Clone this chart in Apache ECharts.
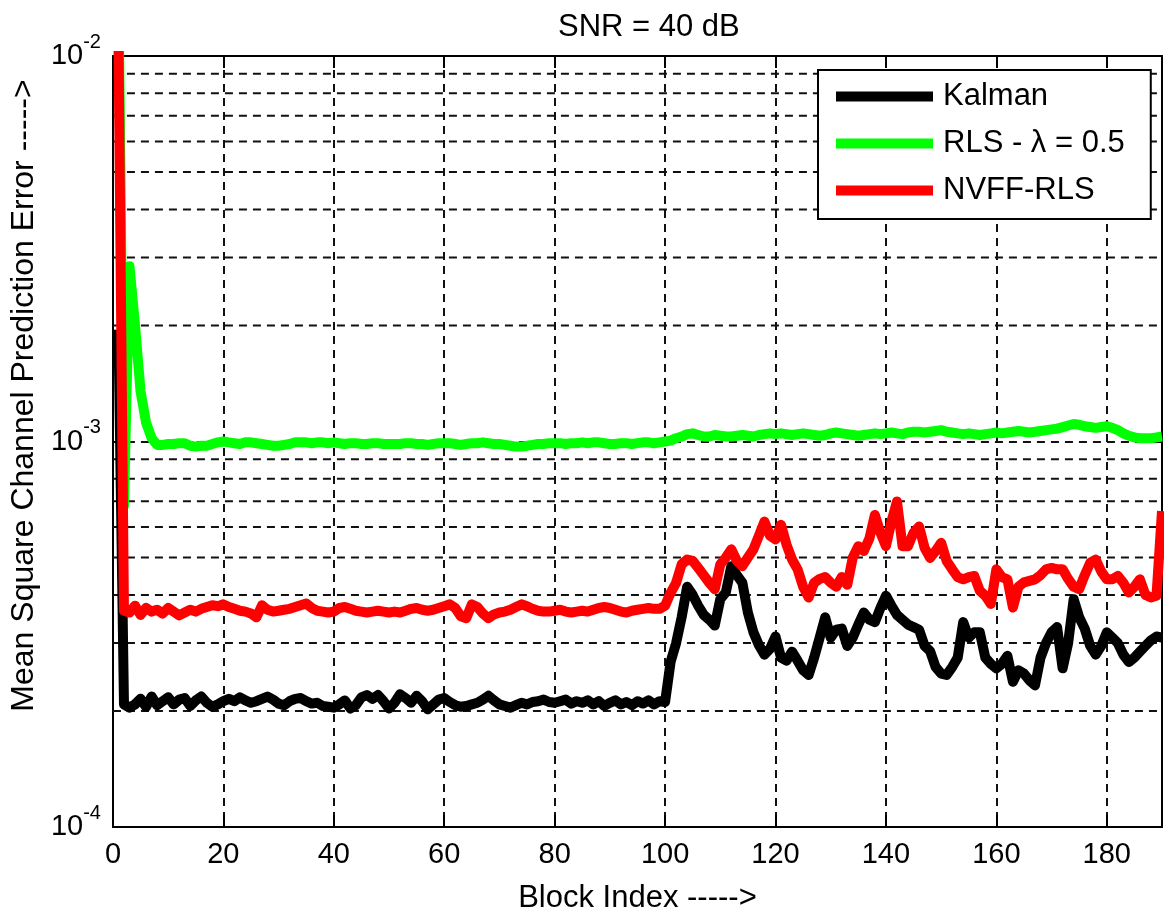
<!DOCTYPE html>
<html>
<head>
<meta charset="utf-8">
<script src="https://cdn.jsdelivr.net/npm/echarts@6/dist/echarts.min.js"></script>
<style>
  html, body { margin: 0; padding: 0; background: #fff; }
  #chart { width: 1164px; height: 919px; }
</style>
</head>
<body>
<div id="chart"></div>
<script>
// values are in units of 1e-4, one per block index 1..190
const UNIT = 1e-4;

const kalman = [
  19.5, 2.08, 2.04, 2.08, 2.15, 2.05, 2.18, 2.07, 2.12, 2.17,
  2.08, 2.14, 2.16, 2.06, 2.13, 2.18, 2.10, 2.05, 2.08, 2.12,
  2.15, 2.12, 2.17, 2.13, 2.10, 2.12, 2.15, 2.18, 2.14, 2.09,
  2.07, 2.12, 2.15, 2.16, 2.12, 2.09, 2.10, 2.06, 2.05, 2.04,
  2.08, 2.13, 2.03, 2.07, 2.17, 2.20, 2.15, 2.20, 2.12, 2.03,
  2.10, 2.21, 2.16, 2.10, 2.19, 2.12, 2.02, 2.08, 2.14, 2.16,
  2.11, 2.07, 2.05, 2.06, 2.08, 2.10, 2.14, 2.19, 2.13, 2.08,
  2.06, 2.04, 2.07, 2.10, 2.08, 2.11, 2.12, 2.14, 2.11, 2.10,
  2.12, 2.14, 2.09, 2.12, 2.10, 2.13, 2.08, 2.12, 2.06, 2.10,
  2.13, 2.08, 2.11, 2.07, 2.12, 2.09, 2.13, 2.08, 2.12, 2.11,
  2.68, 3.00, 3.50, 4.20, 4.00, 3.75, 3.55, 3.45, 3.33, 3.90,
  4.06, 4.75, 4.50, 4.30, 3.60, 3.20, 2.96, 2.80, 2.90, 3.12,
  2.75, 2.70, 2.85, 2.70, 2.55, 2.48, 2.75, 3.10, 3.50, 3.10,
  3.25, 3.27, 2.95, 3.10, 3.35, 3.60, 3.45, 3.40, 3.70, 3.98,
  3.75, 3.55, 3.45, 3.35, 3.30, 3.25, 2.95, 2.86, 2.60, 2.50,
  2.48, 2.60, 2.75, 3.40, 3.10, 3.20, 3.20, 2.75, 2.65, 2.58,
  2.65, 2.78, 2.38, 2.55, 2.50, 2.40, 2.33, 2.75, 3.00, 3.20,
  3.30, 2.58, 3.00, 3.90, 3.50, 3.27, 2.95, 2.80, 2.95, 3.20,
  3.10, 3.00, 2.80, 2.68, 2.75, 2.85, 2.95, 3.05, 3.12, 3.10
];

const rls = [
  150, 6.8, 28.5, 20.0, 13.5, 11.2, 10.2, 9.80, 9.80, 9.85,
  9.85, 9.90, 9.90, 9.75, 9.70, 9.75, 9.75, 9.85, 9.95, 10.0,
  9.95, 9.90, 9.85, 9.95, 9.95, 9.90, 9.85, 9.80, 9.75, 9.75,
  9.80, 9.85, 9.95, 9.95, 9.95, 9.90, 9.95, 9.95, 9.90, 9.95,
  9.90, 9.85, 9.90, 9.90, 9.85, 9.85, 9.90, 9.90, 9.85, 9.85,
  9.85, 9.85, 9.90, 9.90, 9.85, 9.85, 9.80, 9.85, 9.90, 9.90,
  9.90, 9.85, 9.80, 9.85, 9.90, 9.90, 9.95, 9.90, 9.85, 9.85,
  9.80, 9.75, 9.70, 9.70, 9.75, 9.80, 9.85, 9.85, 9.90, 9.90,
  9.90, 9.85, 9.90, 9.90, 9.95, 9.90, 9.95, 9.95, 9.90, 9.85,
  9.85, 9.90, 9.90, 9.85, 9.90, 9.95, 9.95, 9.90, 9.95, 10.0,
  10.05, 10.2, 10.3, 10.45, 10.5, 10.4, 10.3, 10.3, 10.4, 10.35,
  10.3, 10.3, 10.35, 10.4, 10.35, 10.3, 10.4, 10.45, 10.5, 10.45,
  10.5, 10.45, 10.4, 10.45, 10.5, 10.45, 10.4, 10.35, 10.4, 10.5,
  10.55, 10.5, 10.45, 10.4, 10.35, 10.4, 10.45, 10.5, 10.45, 10.5,
  10.55, 10.5, 10.45, 10.55, 10.6, 10.6, 10.55, 10.6, 10.65, 10.7,
  10.6, 10.55, 10.5, 10.45, 10.5, 10.45, 10.4, 10.45, 10.5, 10.55,
  10.5, 10.55, 10.6, 10.65, 10.6, 10.55, 10.6, 10.65, 10.7, 10.75,
  10.8, 10.9, 11.0, 11.1, 11.05, 10.95, 10.9, 10.85, 10.9, 10.95,
  10.85, 10.7, 10.5, 10.35, 10.25, 10.2, 10.2, 10.2, 10.25, 10.3
];

const nvff = [
  110, 3.64, 3.60, 3.75, 3.55, 3.70, 3.62, 3.66, 3.58, 3.70,
  3.62, 3.54, 3.60, 3.66, 3.62, 3.68, 3.72, 3.76, 3.74, 3.78,
  3.72, 3.68, 3.64, 3.62, 3.58, 3.50, 3.76, 3.66, 3.62, 3.64,
  3.66, 3.68, 3.72, 3.76, 3.80, 3.70, 3.64, 3.62, 3.60, 3.62,
  3.70, 3.72, 3.68, 3.64, 3.62, 3.60, 3.62, 3.64, 3.62, 3.60,
  3.62, 3.60, 3.64, 3.68, 3.70, 3.66, 3.64, 3.66, 3.70, 3.74,
  3.78, 3.70, 3.52, 3.48, 3.78, 3.72, 3.58, 3.48, 3.56, 3.60,
  3.62, 3.66, 3.72, 3.78, 3.74, 3.68, 3.64, 3.62, 3.62, 3.64,
  3.66, 3.62, 3.60, 3.62, 3.64, 3.62, 3.66, 3.70, 3.72, 3.70,
  3.66, 3.62, 3.60, 3.64, 3.66, 3.68, 3.70, 3.68, 3.68, 3.75,
  4.05, 4.30, 4.80, 4.94, 4.90, 4.70, 4.50, 4.30, 4.14, 4.80,
  5.00, 5.25, 4.90, 4.75, 5.00, 5.25, 5.70, 6.20, 5.70, 5.57,
  6.08, 5.40, 4.94, 4.66, 4.20, 3.94, 4.30, 4.40, 4.45, 4.30,
  4.20, 4.45, 4.25, 5.00, 5.35, 5.20, 5.60, 6.45, 5.80, 5.35,
  6.20, 6.99, 5.35, 5.35, 5.80, 6.02, 5.30, 4.99, 5.20, 5.46,
  4.90, 4.66, 4.45, 4.39, 4.45, 4.48, 4.10, 3.98, 3.79, 4.66,
  4.45, 4.39, 3.71, 4.20, 4.31, 4.35, 4.39, 4.50, 4.66, 4.70,
  4.66, 4.66, 4.40, 4.20, 4.14, 4.50, 4.85, 4.94, 4.60, 4.39,
  4.39, 4.48, 4.30, 4.06, 4.20, 4.39, 4.00, 3.94, 3.98, 6.60
];

// dashed grid at the 2..9 steps of each decade
const minorGrid = [2e-4, 3e-4, 4e-4, 5e-4, 6e-4, 7e-4, 8e-4, 9e-4,
                   2e-3, 3e-3, 4e-3, 5e-3, 6e-3, 7e-3, 8e-3, 9e-3];
const xRange = [0, 190];

const seriesNames = ['Kalman', 'RLS - λ = 0.5', 'NVFF-RLS'];
const seriesColors = ['#000000', '#00ff00', '#ff0000'];

const FONT = 'Liberation Sans, Arial, sans-serif';

function pairs(arr) {
  return arr.map((v, i) => [i + 1, v * UNIT]);
}

// one dashed segment per minor grid value, broken apart by empty points
const minorGridData = [];
minorGrid.forEach(v => {
  minorGridData.push([xRange[0], v], [xRange[1], v], [xRange[1], '-']);
});

const chart = echarts.init(document.getElementById('chart'));

const gridLine = { color: '#111', width: 2, type: [8, 6] };

const option = {
  animation: false,
  backgroundColor: '#fff',
  textStyle: { fontFamily: FONT, color: '#000' },
  title: {
    text: 'SNR = 40 dB',
    left: 553,
    top: 7,
    textStyle: { fontFamily: FONT, fontSize: 31, fontWeight: 'normal', color: '#000' }
  },
  legend: {
    data: seriesNames,
    orient: 'vertical',
    left: 818,
    top: 70,
    padding: [11, 26, 13, 18],
    itemGap: 16,
    itemWidth: 97,
    itemHeight: 10,
    icon: 'rect',
    backgroundColor: '#fff',
    borderColor: '#000',
    borderWidth: 2,
    textStyle: { fontFamily: FONT, fontSize: 31, color: '#000', padding: [0, 0, 0, 5] }
  },
  grid: { left: 110, right: 2, top: 56, bottom: 86 },
  xAxis: [
    {
      type: 'value',
      min: xRange[0],
      max: xRange[1],
      interval: 20,
      name: 'Block Index ----->',
      nameLocation: 'middle',
      nameGap: 56,
      nameTextStyle: { fontFamily: FONT, fontSize: 31, color: '#000' },
      axisLine: { show: true, onZero: false, lineStyle: { color: '#000', width: 2 } },
      axisTick: { inside: true, length: 12, lineStyle: { color: '#000', width: 2 } },
      axisLabel: { fontFamily: FONT, fontSize: 29, color: '#000', margin: 13, showMaxLabel: false },
      splitLine: { show: true, lineStyle: gridLine }
    },
    {
      type: 'value',
      position: 'top',
      min: xRange[0],
      max: xRange[1],
      interval: 20,
      axisLine: { show: true, onZero: false, lineStyle: { color: '#000', width: 2 } },
      axisTick: { inside: true, length: 12, lineStyle: { color: '#000', width: 2 } },
      axisLabel: { show: false },
      splitLine: { show: false }
    }
  ],
  yAxis: [
    {
      type: 'log',
      logBase: 10,
      min: 1e-4,
      max: 1e-2,
      name: 'Mean Square Channel Prediction Error ----->',
      nameLocation: 'middle',
      nameGap: 68,
      nameTextStyle: { fontFamily: FONT, fontSize: 32, color: '#000', padding: [0, 0, 0, 92] },
      axisLine: { show: true, onZero: false, lineStyle: { color: '#000', width: 2 } },
      axisTick: { inside: true, length: 12, lineStyle: { color: '#000', width: 2 } },
      axisLabel: {
        margin: 12,
        formatter: function (v) {
          const e = Math.round(Math.log10(v));
          return '{b|10}{s|' + e + '}';
        },
        rich: {
          b: { fontFamily: FONT, fontSize: 29, color: '#000' },
          s: { fontFamily: FONT, fontSize: 20, color: '#000', padding: [0, 0, 28, 0] }
        }
      },
      splitLine: { show: true, lineStyle: gridLine }
    },
    {
      type: 'log',
      logBase: 10,
      min: 1e-4,
      max: 1e-2,
      position: 'right',
      axisLine: { show: true, onZero: false, lineStyle: { color: '#000', width: 2 } },
      axisTick: { inside: true, length: 12, lineStyle: { color: '#000', width: 2 } },
      axisLabel: { show: false },
      splitLine: { show: false }
    }
  ],
  series: [
    {
      name: 'minor-grid',
      type: 'line',
      z: 1,
      data: minorGridData,
      connectNulls: false,
      showSymbol: false,
      silent: true,
      lineStyle: gridLine,
      itemStyle: { color: '#111' },
      emphasis: { disabled: true }
    }
  ].concat([kalman, rls, nvff].map((arr, k) => ({
    name: seriesNames[k],
    type: 'line',
    z: 3 + k,
    data: pairs(arr),
    showSymbol: false,
    clip: true,
    color: seriesColors[k],
    lineStyle: { color: seriesColors[k], width: 10, join: 'round' }
  })))
};

chart.setOption(option);
</script>
</body>
</html>
